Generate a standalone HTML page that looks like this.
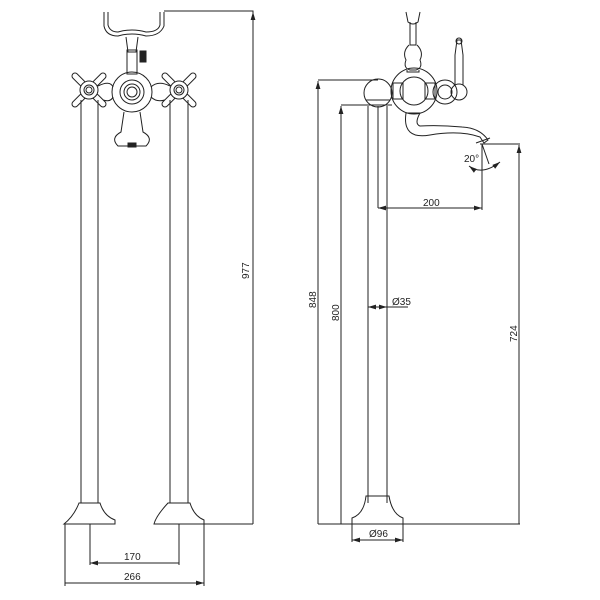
<!DOCTYPE html>
<html><head><style>body{margin:0;background:#fff}svg{display:block}text{font-family:"Liberation Sans",sans-serif;font-size:10px;fill:#222}</style></head><body>
<svg width="600" height="600" viewBox="0 0 600 600" fill="none" stroke="#222" stroke-width="1">
<defs><marker id="a" viewBox="0 0 10 6" refX="10" refY="3" markerWidth="8" markerHeight="5" orient="auto-start-reverse"><path d="M0 0L10 3L0 6z" fill="#222" stroke="none"/></marker></defs>
<!-- LEFT VIEW -->
<path d="M104 12 V26 Q106 36 118 36 Q132 32 146 36 Q160 36 164 26 V12"/>
<path d="M108 12 V25 Q110 32 118 32 Q132 28 146 32 Q158 32 160 25 V12"/>
<path d="M126 37 L128 52 H136 L138 37"/>
<rect x="127" y="50" width="10" height="24"/>
<rect x="140" y="51" width="6" height="11" fill="#222"/>
<circle cx="132" cy="92" r="20"/><circle cx="132" cy="92" r="12"/><circle cx="132" cy="92" r="8"/><circle cx="132" cy="92" r="5"/>
<path d="M98 86 Q110 80 113 87 M98 98 Q110 104 113 97 M151 87 Q158 80 170 86 M151 97 Q158 104 170 98"/>
<g id="h"><path d="M82 83 L75 76 M96 83 L103 76 M82 97 L75 104 M96 97 L103 104" stroke-width="7" stroke-linecap="round"/>
<path d="M82 83 L75 76 M96 83 L103 76 M82 97 L75 104 M96 97 L103 104" stroke="#fff" stroke-width="5" stroke-linecap="round"/>
<circle cx="89" cy="90" r="9" fill="#fff"/><circle cx="89" cy="90" r="5"/><circle cx="89" cy="90" r="3"/></g>
<use href="#h" x="90"/>
<path d="M124 112 L121 132 Q110 138 118 146 H146 Q154 138 143 132 L140 112"/>
<rect x="128" y="143" width="8" height="4" fill="#222"/>
<path d="M81 100 V503 M98 100 V503 M170 100 V503 M188 100 V503"/>
<path d="M79 503 H100 Q104 516 115 520 V524 H64 Q74 516 79 503Z"/>
<path d="M168 503 H190 Q194 516 204 520 V524 H154 Q156 516 168 503Z"/>
<path d="M90 524 V565 M179 524 V565 M65 524 V586 M204 524 V586"/>
<path d="M90 563 H179 M65 583 H204" marker-start="url(#a)" marker-end="url(#a)"/>
<text x="124" y="560" stroke="none">170</text><text x="124" y="580" stroke="none">266</text>
<path d="M164 11 H253 V524 M204 524 H253"/>
<path d="M253 524 V12" marker-end="url(#a)"/>
<text transform="translate(249,279) rotate(-90)" stroke="none">977</text>
<!-- RIGHT VIEW -->
<path d="M406 12 L408 22 Q413 26 418 22 L420 12 M410 22 V45 H416 V22"/>
<path d="M409 45 Q402 52 406 60 Q403 68 410 70 H416 Q423 68 420 60 Q424 52 417 45"/>
<path d="M407 70 V72 H419 V70"/>
<circle cx="414" cy="91" r="23"/>
<circle cx="414" cy="91" r="14"/>
<rect x="393" y="83" width="10" height="16"/><rect x="425" y="83" width="10" height="16"/>
<circle cx="378" cy="93" r="14"/>
<circle cx="445" cy="92" r="12"/><circle cx="445" cy="92" r="7"/>
<path d="M455 85 V55 L457 40 H461 L463 55 V85"/><circle cx="459" cy="41" r="3"/>
<circle cx="459" cy="92" r="8"/>
<path d="M406 113 Q402 140 430 135 Q460 130 480 137 L484 143 L488 140 Q480 128 462 127 Q440 125 420 126 Q414 124 420 113Z"/>
<path d="M476 143 L490 138"/>
<path d="M364 105 H392 M366 100 H390"/>
<path d="M368 106 V503 M387 106 V503 M378 106 V208"/>
<path d="M366 496 H389 Q392 514 403 518 V524 H352 V518 Q364 514 366 496Z"/>
<path d="M352 524 V542 M403 524 V542"/>
<path d="M352 540 H403" marker-start="url(#a)" marker-end="url(#a)"/>
<text x="369" y="537" stroke="none">Ø96</text>
<path d="M318 80 H378 M341 105 H366 M318 524 H520 M480 144 H520"/>
<path d="M318 524 V81" marker-end="url(#a)"/><path d="M341 524 V106" marker-end="url(#a)"/><path d="M519 524 V145" marker-end="url(#a)"/>
<text transform="translate(316,308) rotate(-90)" stroke="none">848</text>
<text transform="translate(339,321) rotate(-90)" stroke="none">800</text>
<text transform="translate(517,342) rotate(-90)" stroke="none">724</text>
<path d="M482 144 V210"/>
<path d="M378 208 H482" marker-start="url(#a)" marker-end="url(#a)"/>
<text x="423" y="206" stroke="none">200</text>
<path d="M368 307 H387" marker-start="url(#a)" marker-end="url(#a)"/>
<path d="M387 307 H408"/><text x="392" y="305" stroke="none">Ø35</text>
<path d="M482 144 L489 164"/>
<path d="M469 166 Q482 176 500 162" marker-end="url(#a)" marker-start="url(#a)"/>
<text x="464" y="162" stroke="none">20°</text>
</svg>
</body></html>
